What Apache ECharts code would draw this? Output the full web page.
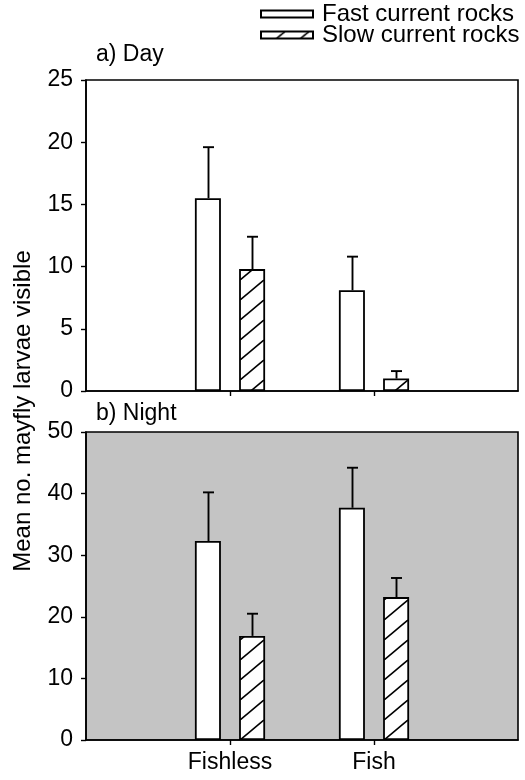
<!DOCTYPE html>
<html>
<head>
<meta charset="utf-8">
<script src="https://cdn.jsdelivr.net/npm/echarts@6/dist/echarts.min.js"></script>
<style>
html,body{margin:0;padding:0;background:#fff;}
#chart{width:525px;height:780px;}
</style>
</head>
<body>
<div id="chart"></div>
<script>
// ---- data ----
const categories = ['Fishless', 'Fish'];
const categoryPositions = [1, 2];
const seriesNames = ['Fast current rocks', 'Slow current rocks'];
const dayFast = [15.5, 8.1];
const dayFastErr = [4.1, 2.7];
const daySlow = [9.8, 1.0];
const daySlowErr = [2.6, 0.6];
const nightFast = [32.3, 37.7];
const nightFastErr = [7.9, 6.5];
const nightSlow = [16.9, 23.2];
const nightSlowErr = [3.6, 3.1];
const dayTicks = [0, 5, 10, 15, 20, 25];
const nightTicks = [0, 10, 20, 30, 40, 50];

// ---- hatch pattern ----
function makeHatch() {
  const w = 24, h = 20;
  const c = document.createElement('canvas');
  c.width = w; c.height = h;
  const ctx = c.getContext('2d');
  ctx.fillStyle = '#fff';
  ctx.fillRect(0, 0, w, h);
  ctx.strokeStyle = '#000';
  ctx.lineWidth = 1.7;
  [[-w, 0], [0, 0], [w, 0]].forEach(function (o) {
    ctx.beginPath();
    ctx.moveTo(o[0], h + o[1]);
    ctx.lineTo(o[0] + w, o[1]);
    ctx.stroke();
  });
  return c;
}
const hatch = { image: makeHatch(), repeat: 'repeat' };

const FONT = 'Liberation Sans, Arial, Helvetica, sans-serif';
const FS = 23;
const FS_BIG = 24;
const BAR_W = 26;
const BAR_GAP = '70%';
const OFFSET = 22.1;

function pairs(vals) { return vals.map(function (v, i) { return [categoryPositions[i], v]; }); }
function errPairs(vals, errs) { return vals.map(function (v, i) { return [categoryPositions[i], v, errs[i]]; }); }

function errorSeries(name, vals, errs, gridIdx, offset) {
  return {
    type: 'custom',
    name: name + ' err',
    xAxisIndex: gridIdx, yAxisIndex: gridIdx,
    z: 5,
    silent: true,
    data: errPairs(vals, errs),
    renderItem: function (params, api) {
      const x = api.value(0), y = api.value(1), e = api.value(2);
      const p0 = api.coord([x, y]);
      const p1 = api.coord([x, y + e]);
      const cx = Math.round(p0[0] + offset) + 0.5;
      return {
        type: 'group',
        children: [
          { type: 'line', shape: { x1: cx, y1: p0[1], x2: cx, y2: p1[1] }, style: { stroke: '#000', lineWidth: 1.9 } },
          { type: 'line', shape: { x1: cx - 5.5, y1: p1[1], x2: cx + 5.5, y2: p1[1] }, style: { stroke: '#000', lineWidth: 1.9 } }
        ]
      };
    }
  };
}

function barSeries(name, vals, gridIdx, color) {
  return {
    type: 'bar',
    name: name,
    xAxisIndex: gridIdx, yAxisIndex: gridIdx,
    barWidth: BAR_W,
    barGap: BAR_GAP,
    data: pairs(vals),
    itemStyle: { color: color, borderColor: '#000', borderWidth: 1.8 },
    emphasis: { disabled: true },
    z: 3
  };
}

function xAxis(gridIdx, showLabels) {
  return {
    type: 'value', gridIndex: gridIdx, min: 0, max: 3, interval: 1,
    axisLine: { show: true, lineStyle: { color: '#000', width: 1.6 } },
    axisTick: { show: true, length: 5, inside: false, customValues: categoryPositions, lineStyle: { color: '#000', width: 1.4 } },
    splitLine: { show: false },
    axisLabel: showLabels ? {
      show: true, customValues: categoryPositions,
      formatter: function (v) { const i = categoryPositions.indexOf(v); return i >= 0 ? categories[i] : ''; },
      color: '#000', fontSize: FS, fontFamily: FONT, margin: 11
    } : { show: false }
  };
}

function yAxis(gridIdx, ticks) {
  return {
    type: 'value', gridIndex: gridIdx,
    min: ticks[0], max: ticks[ticks.length - 1], interval: ticks[1] - ticks[0],
    axisLine: { show: true, lineStyle: { color: '#000', width: 1.6 } },
    axisTick: { show: true, length: 5, lineStyle: { color: '#000', width: 1.4 } },
    splitLine: { show: false },
    axisLabel: { color: '#000', fontSize: FS, fontFamily: FONT, margin: 13 }
  };
}

function legendItem(name, top) {
  return {
    data: [name],
    left: 260, top: top,
    padding: 0,
    itemWidth: 52, itemHeight: 7,
    icon: 'rect',
    selectedMode: false,
    textStyle: { fontSize: FS_BIG, color: '#000', fontFamily: FONT, padding: [0, 0, 0, 4] }
  };
}

const chart = echarts.init(document.getElementById('chart'), null, { renderer: 'canvas' });
chart.setOption({
  animation: false,
  backgroundColor: '#fff',
  textStyle: { fontFamily: FONT },
  title: [
    { text: 'a) Day', left: 96, top: 43, textStyle: { fontSize: FS, fontWeight: 'normal', color: '#000', fontFamily: FONT }, padding: 0 },
    { text: 'b) Night', left: 96, top: 402, textStyle: { fontSize: FS, fontWeight: 'normal', color: '#000', fontFamily: FONT }, padding: 0 }
  ],
  legend: [legendItem(seriesNames[0], 2), legendItem(seriesNames[1], 23)],
  graphic: [
    {
      type: 'text', x: 23, y: 411, rotation: Math.PI / 2,
      style: { text: 'Mean no. mayfly larvae visible', fontSize: FS_BIG, fontFamily: FONT, fill: '#000', align: 'center', verticalAlign: 'middle' }
    }
  ],
  grid: [
    { left: 86, right: 7, top: 80, height: 311, show: true, borderColor: '#000', borderWidth: 1.6, backgroundColor: 'transparent' },
    { left: 86, right: 7, top: 432, height: 308, show: true, borderColor: '#000', borderWidth: 1.6, backgroundColor: '#c4c4c4' }
  ],
  xAxis: [xAxis(0, false), xAxis(1, true)],
  yAxis: [yAxis(0, dayTicks), yAxis(1, nightTicks)],
  series: [
    barSeries(seriesNames[0], dayFast, 0, '#fff'),
    barSeries(seriesNames[1], daySlow, 0, hatch),
    barSeries(seriesNames[0], nightFast, 1, '#fff'),
    barSeries(seriesNames[1], nightSlow, 1, hatch),
    errorSeries(seriesNames[0], dayFast, dayFastErr, 0, -OFFSET),
    errorSeries(seriesNames[1], daySlow, daySlowErr, 0, OFFSET),
    errorSeries(seriesNames[0], nightFast, nightFastErr, 1, -OFFSET),
    errorSeries(seriesNames[1], nightSlow, nightSlowErr, 1, OFFSET)
  ]
});
</script>
</body>
</html>
